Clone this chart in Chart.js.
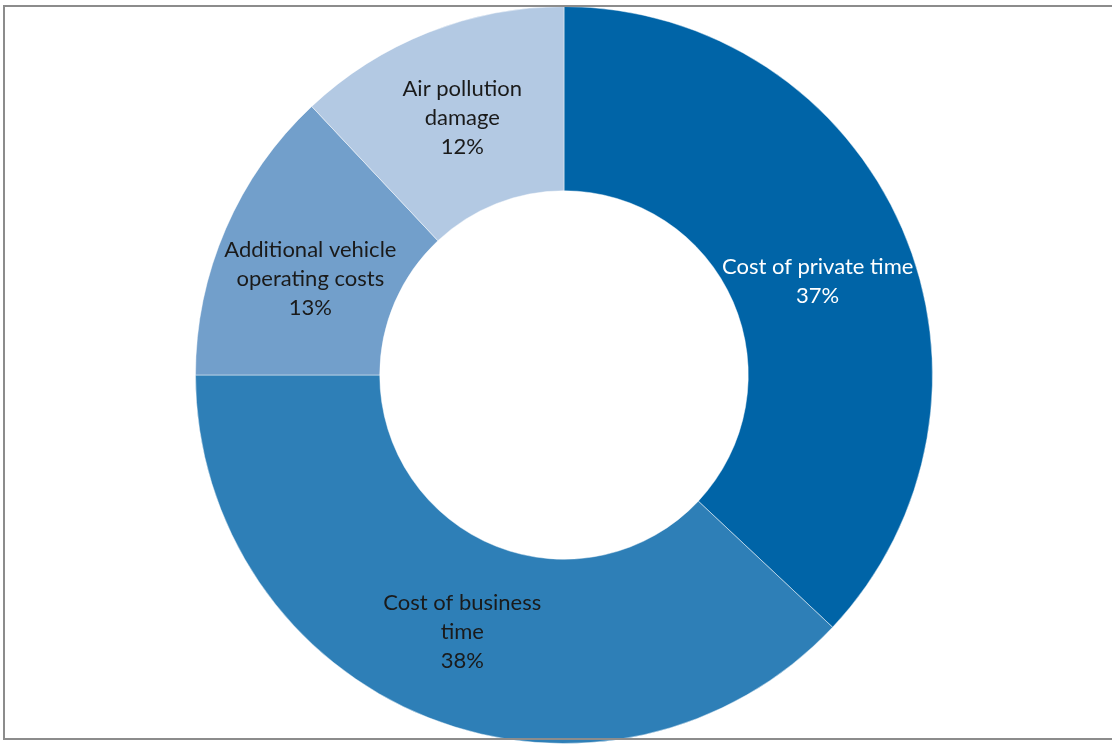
<!DOCTYPE html>
<html>
<head>
<meta charset="utf-8">
<script src="https://cdn.jsdelivr.net/npm/chart.js@4"></script>
<style>
  html, body { margin: 0; padding: 0; background: #fff; overflow: hidden; }
  #wrap { position: relative; width: 1112px; height: 744px; }
  #frame {
    position: absolute; left: 3px; top: 5px; width: 1140px; height: 735px;
    border: 2px solid #8c8c8c; box-sizing: border-box; pointer-events: none;
  }
  canvas { position: absolute; left: 0; top: 0; }
</style>
</head>
<body>
<div id="wrap">
  <canvas id="chart" width="1112" height="744"></canvas>
  <div id="frame"></div>
</div>
<script>
// Congestion cost breakdown, shares in percent
const categories = [
  ['Cost of private time'],
  ['Cost of business', 'time'],
  ['Additional vehicle', 'operating costs'],
  ['Air pollution', 'damage'],
];
const shares = [37, 38, 13, 12];
const sliceColors = ['#0064a7', '#2e7fb7', '#729fcb', '#b3c9e3'];
const labelColors = ['#ffffff', '#1a1a1a', '#1a1a1a', '#1a1a1a'];
// small vertical nudges so labels sit like the original layout
const labelShiftY = [16, 0, 14, 0];

const FONT = '22px Lato, "Open Sans", sans-serif';
const LINE_H = 29;

// Multi-line labels centred on each slice
const sliceLabels = {
  id: 'sliceLabels',
  afterDatasetsDraw(chart) {
    const ctx = chart.ctx;
    const meta = chart.getDatasetMeta(0);
    ctx.save();
    ctx.font = FONT;
    ctx.textAlign = 'center';
    ctx.textBaseline = 'middle';
    meta.data.forEach((arc, i) => {
      const pos = arc.tooltipPosition();
      const lines = [...categories[i], shares[i] + '%'];
      const top = pos.y + labelShiftY[i] - (lines.length - 1) * LINE_H / 2;
      ctx.fillStyle = labelColors[i];
      lines.forEach((t, j) => ctx.fillText(t, pos.x, top + j * LINE_H));
    });
    ctx.restore();
  }
};

new Chart(document.getElementById('chart'), {
  type: 'doughnut',
  data: {
    labels: categories.map(c => c.join(' ')),
    datasets: [{
      data: shares,
      backgroundColor: sliceColors,
      borderColor: 'rgba(255,255,255,0.45)',
      borderWidth: 1,
      hoverOffset: 0,
    }],
  },
  options: {
    responsive: false,
    animation: false,
    cutout: '50%',
    layout: { padding: { left: 16, right: 0, top: 6, bottom: 0 } },
    plugins: {
      legend: { display: false },
      tooltip: { enabled: false },
    },
  },
  plugins: [sliceLabels],
});
</script>
</body>
</html>
